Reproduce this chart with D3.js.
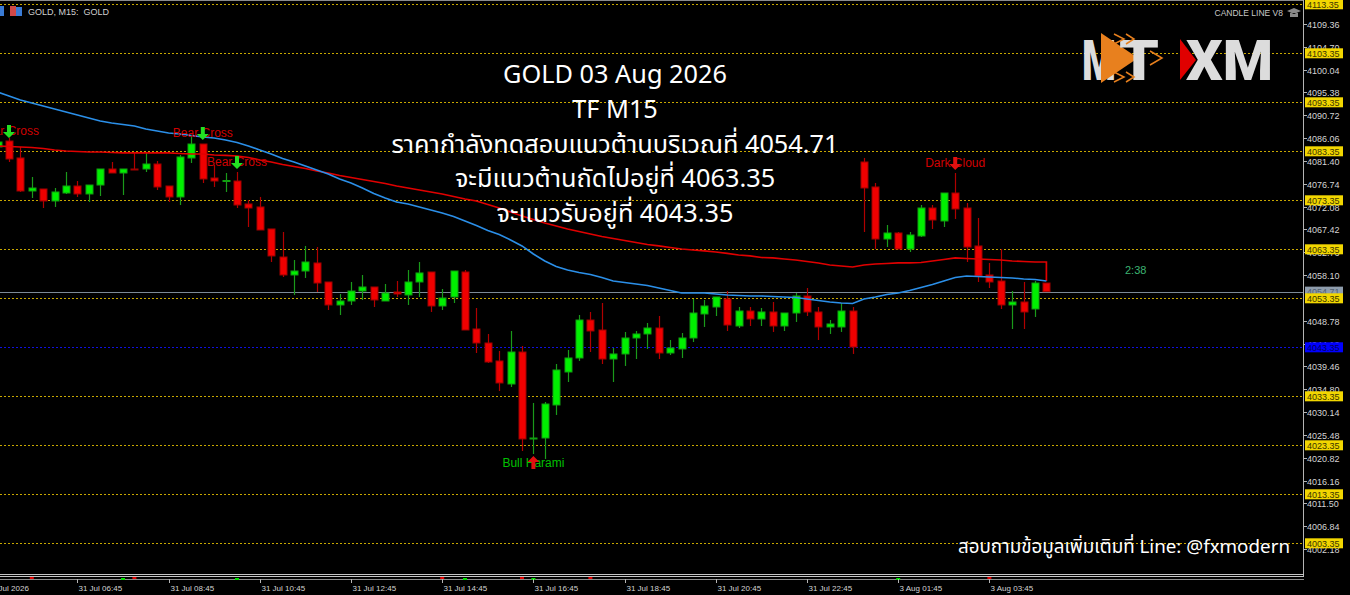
<!DOCTYPE html>
<html>
<head>
<meta charset="utf-8">
<script src="https://cdn.jsdelivr.net/npm/d3@7"></script>
<style>
  html, body { margin: 0; padding: 0; background: #000; overflow: hidden; }
</style>
</head>
<body>
<div id="chart"></div>
<script>
// bar times (M15), 31 Jul then 3 Aug after the weekend gap
const times = [
  "31.07 04:45",
  "31.07 05:00","31.07 05:15","31.07 05:30","31.07 05:45",
  "31.07 06:00","31.07 06:15","31.07 06:30","31.07 06:45",
  "31.07 07:00","31.07 07:15","31.07 07:30","31.07 07:45",
  "31.07 08:00","31.07 08:15","31.07 08:30","31.07 08:45",
  "31.07 09:00","31.07 09:15","31.07 09:30","31.07 09:45",
  "31.07 10:00","31.07 10:15","31.07 10:30","31.07 10:45",
  "31.07 11:00","31.07 11:15","31.07 11:30","31.07 11:45",
  "31.07 12:00","31.07 12:15","31.07 12:30","31.07 12:45",
  "31.07 13:00","31.07 13:15","31.07 13:30","31.07 13:45",
  "31.07 14:00","31.07 14:15","31.07 14:30","31.07 14:45",
  "31.07 15:00","31.07 15:15","31.07 15:30","31.07 15:45",
  "31.07 16:00","31.07 16:15","31.07 16:30","31.07 16:45",
  "31.07 17:00","31.07 17:15","31.07 17:30","31.07 17:45",
  "31.07 18:00","31.07 18:15","31.07 18:30","31.07 18:45",
  "31.07 19:00","31.07 19:15","31.07 19:30","31.07 19:45",
  "31.07 20:00","31.07 20:15","31.07 20:30","31.07 20:45",
  "31.07 21:00","31.07 21:15","31.07 21:30","31.07 21:45",
  "31.07 22:00","31.07 22:15","31.07 22:30","31.07 22:45",
  "31.07 23:00","31.07 23:15","31.07 23:30","31.07 23:45",
  "03.08 01:00","03.08 01:15","03.08 01:30","03.08 01:45",
  "03.08 02:00","03.08 02:15","03.08 02:30","03.08 02:45",
  "03.08 03:00","03.08 03:15","03.08 03:30","03.08 03:45",
  "03.08 04:00","03.08 04:15","03.08 04:30","03.08 04:45",
  "03.08 05:00"
];

const open = [null,
  4084.23,4085.45,4081.99,4075.25,4075.66,4073.21,4074.84,4076.27,4074.64,4076.47,
  4079.74,4078.92,4079.74,4079.74,4080.76,4076.27,4074.03,4081.99,4084.84,4077.90,
  4077.19,4077.29,4072.60,4071.99,4067.50,4061.78,4058.11,4058.92,4060.56,4056.68,
  4051.99,4052.80,4054.84,4055.66,4052.80,4054.64,4054.03,4056.68,4058.72,4051.78,
  4053.62,4058.72,4047.09,4044.23,4040.56,4035.86,4042.39,4024.64,4024.84,4031.58,
  4038.31,4041.17,4048.92,4046.88,4040.96,4041.99,4045.25,4046.07,4047.29,4042.19,
  4043.01,4045.25,4050.15,4051.58,4053.21,4047.70,4050.76,4049.13,4050.56,4047.70,
  4050.35,4053.82,4050.56,4047.50,4047.50,4050.76,4081.17,4076.07,4065.45,4066.68,
  4063.41,4066.07,4071.78,4069.13,4074.84,4071.78,4064.03,4058.11,4056.88,4051.99,
  4052.60,4051.17,4056.47];

const high = [null,
  4085.66,4086.07,4084.23,4078.11,4075.66,4075.86,4079.13,4077.29,4076.47,4079.74,
  4081.17,4079.74,4083.01,4083.01,4081.37,4076.27,4082.60,4086.27,4084.84,4080.56,
  4078.92,4079.13,4073.41,4074.03,4067.50,4066.88,4061.17,4064.03,4063.82,4056.68,
  4054.23,4056.68,4058.11,4055.66,4056.27,4056.88,4059.13,4060.76,4058.72,4055.25,
  4058.92,4059.13,4051.37,4046.07,4042.60,4046.68,4043.62,4031.99,4032.19,4039.94,
  4042.80,4049.94,4050.56,4052.39,4043.21,4046.47,4046.68,4048.31,4049.74,4044.84,
  4046.27,4053.21,4053.01,4053.62,4054.84,4051.58,4051.58,4051.37,4052.60,4050.35,
  4054.43,4055.45,4051.58,4048.92,4052.39,4051.58,4081.99,4076.88,4068.31,4066.88,
  4066.88,4072.39,4072.39,4074.84,4078.92,4072.80,4069.74,4060.56,4063.41,4054.84,
  4056.68,4056.88,4056.47];

const low = [null,
  4084.03,4081.17,4075.05,4073.82,4071.78,4071.99,4074.64,4074.03,4073.01,4074.23,
  4078.92,4074.43,4079.54,4079.13,4075.45,4073.01,4072.39,4080.96,4076.88,4076.07,
  4075.05,4071.78,4067.90,4067.29,4060.76,4057.70,4054.03,4057.50,4054.64,4050.96,
  4049.94,4051.99,4053.01,4051.58,4052.80,4053.62,4051.99,4053.62,4050.56,4050.96,
  4052.39,4046.88,4042.19,4040.15,4034.43,4035.25,4022.19,4021.58,4020.56,4029.54,
  4036.27,4040.56,4042.39,4039.94,4036.27,4039.54,4040.96,4043.01,4040.96,4041.78,
  4041.17,4044.43,4047.50,4049.74,4046.68,4047.29,4047.70,4047.70,4046.48,4046.68,
  4048.52,4049.74,4044.84,4046.07,4046.48,4041.99,4066.88,4063.41,4063.82,4063.41,
  4062.80,4065.86,4067.50,4067.90,4069.54,4060.76,4056.68,4055.45,4051.17,4047.09,
  4047.09,4049.54,4054.71];

const close = [null,
  4085.25,4081.78,4075.25,4075.86,4073.21,4075.05,4076.27,4074.64,4076.47,4079.74,
  4078.92,4079.74,4079.54,4080.76,4076.07,4074.03,4082.19,4084.84,4077.70,4077.29,
  4077.39,4072.39,4071.78,4067.29,4061.99,4058.11,4058.92,4060.76,4056.47,4051.99,
  4052.80,4054.84,4055.66,4053.01,4054.43,4054.23,4056.68,4058.52,4051.78,4053.41,
  4058.92,4046.88,4044.23,4040.35,4036.07,4042.39,4024.64,4024.84,4031.78,4038.72,
  4041.17,4048.92,4046.68,4040.96,4041.99,4045.25,4046.07,4047.29,4042.19,4043.21,
  4045.25,4050.35,4051.78,4053.62,4047.90,4050.76,4049.13,4050.56,4047.70,4050.35,
  4053.82,4050.56,4047.50,4048.11,4050.76,4043.41,4075.86,4065.45,4066.68,4063.41,
  4066.27,4071.78,4069.33,4074.84,4071.58,4063.82,4057.90,4056.68,4051.99,4052.60,
  4050.56,4056.47,4054.71];

// blue (fast) and red (slow) moving averages
const maFast = [null,
  4095.45,4094.64,4093.82,4093.21,4092.60,4091.99,4091.37,4090.76,4090.15,4089.54,
  4089.13,4088.82,4088.52,4087.90,4087.50,4087.09,4086.88,4086.58,4086.27,4086.07,
  4085.66,4085.15,4084.43,4083.62,4082.80,4081.88,4081.17,4080.35,4079.54,4078.72,
  4077.70,4076.88,4075.86,4074.74,4073.82,4073.01,4072.60,4071.99,4071.37,4070.76,
  4070.05,4069.13,4068.21,4067.19,4066.37,4065.25,4064.03,4062.39,4060.96,4059.84,
  4059.13,4058.62,4058.21,4057.60,4056.88,4056.58,4056.27,4055.96,4055.45,4054.94,
  4054.43,4054.43,4054.43,4054.23,4054.03,4053.92,4053.82,4053.82,4053.72,4053.62,
  4053.52,4053.21,4052.90,4052.60,4052.39,4052.29,4053.21,4053.62,4054.13,4054.43,
  4054.94,4055.56,4056.17,4056.88,4057.60,4057.90,4057.80,4057.70,4057.60,4057.50,
  4057.29,4057.19,4056.88];

const maSlow = [null,
  4084.43,4084.33,4084.23,4084.13,4083.92,4083.62,4083.41,4083.31,4083.21,4083.21,
  4083.11,4083.01,4083.01,4083.01,4083.01,4083.01,4082.90,4082.80,4082.80,4082.60,
  4082.50,4082.39,4082.09,4081.58,4081.17,4080.66,4080.25,4079.84,4079.33,4078.92,
  4078.41,4078.01,4077.60,4077.19,4076.78,4076.27,4075.86,4075.45,4075.05,4074.64,
  4074.13,4073.62,4073.21,4072.50,4071.78,4070.96,4070.15,4069.43,4068.72,4068.11,
  4067.50,4066.99,4066.47,4065.96,4065.56,4065.15,4064.74,4064.33,4064.03,4063.72,
  4063.41,4063.21,4063.01,4062.80,4062.50,4062.19,4061.99,4061.68,4061.58,4061.37,
  4061.17,4060.86,4060.56,4060.15,4059.94,4059.74,4060.15,4060.35,4060.45,4060.56,
  4060.56,4060.66,4060.96,4061.27,4061.58,4061.47,4061.37,4061.27,4061.17,4060.96,
  4060.86,4060.76,4060.76];
const maSlowTail = 4056.88;

const levels = [4113.35, 4103.35, 4093.35, 4083.35, 4073.35, 4063.35, 4053.35, 4043.35, 4033.35, 4023.35, 4013.35, 4003.35];
const supportLevel = 4043.35;
const bid = 4054.71;

const priceTicks = ["4109.36","4104.70","4100.04","4095.38","4090.72","4086.06","4081.40","4076.74",
  "4072.08","4067.42","4062.76","4058.10","4048.78","4044.12","4039.46","4034.80","4030.14",
  "4025.48","4020.82","4016.16","4011.50","4006.84","4002.18"];

const timeTicks = ["31.07 04:45","31.07 06:45","31.07 08:45","31.07 10:45","31.07 12:45","31.07 14:45",
  "31.07 16:45","31.07 18:45","31.07 20:45","31.07 22:45","03.08 01:45","03.08 03:45"];
const timeLabels = ["31 Jul 2026","31 Jul 06:45","31 Jul 08:45","31 Jul 10:45","31 Jul 12:45","31 Jul 14:45",
  "31 Jul 16:45","31 Jul 18:45","31 Jul 20:45","31 Jul 22:45","3 Aug 01:45","3 Aug 03:45"];

// pattern signals: bar, label, arrow tip price
const signalTimes = ["31.07 05:15","31.07 09:30","31.07 10:15","03.08 03:00","31.07 16:45"];
const signalNames = ["Bear Cross","Bear Cross","Bear Cross","Dark Cloud","Bull Harami"];
const signalPrices = [4086.07, 4085.66, 4079.74, 4079.54, 4021.17];
const signalDir = ["down","down","down","down","up"];

// small marks in the strip under the chart
const stripTimes = ["31.07 05:45","31.07 07:45","31.07 08:00","31.07 10:15","31.07 14:45","31.07 15:15",
  "31.07 16:30","31.07 16:45","31.07 18:00","03.08 01:45","03.08 03:45"];
const stripKind = ["dn","up","dn","up","dn","up","dn","up","dn","up","dn"];

const titleLines = ["GOLD 03 Aug 2026", "TF M15", "ราคากำลังทดสอบแนวต้านบริเวณที่ 4054.71",
  "จะมีแนวต้านถัดไปอยู่ที่ 4063.35", "จะแนวรับอยู่ที่ 4043.35"];

const W = 1350, H = 595;
const plotRight = 1303, plotTop = 1, plotBottom = 574;
const thaiFont = '"Noto Sans Thai", "Noto Sans", "DejaVu Sans", sans-serif';
const termFont = '"Liberation Sans", Arial, sans-serif';
const logoFont = "Roboto, 'DejaVu Sans', sans-serif";

const svg = d3.select("#chart").append("svg")
    .attr("width", W)
    .attr("height", H)
    .style("display", "block");

svg.append("rect").attr("width", W).attr("height", H).attr("fill", "#000");

const x = d3.scalePoint()
    .domain(times)
    .range([-13.8, 1046.4]);

const y = d3.scaleLinear()
    .domain([4003.35, 4113.35])
    .range([543.3, 4.3]);

svg.append("clipPath").attr("id", "plot-clip")
  .append("rect")
    .attr("x", 0).attr("y", plotTop)
    .attr("width", plotRight).attr("height", plotBottom - plotTop);

const plot = svg.append("g").attr("clip-path", "url(#plot-clip)");

// top border
svg.append("line")
    .attr("x1", 0).attr("x2", plotRight)
    .attr("y1", 0.5).attr("y2", 0.5)
    .attr("stroke", "#8c8c8c");

// horizontal level lines
levels.forEach(v => {
  const isSup = v === supportLevel;
  plot.append("line")
      .attr("x1", 0).attr("x2", plotRight)
      .attr("y1", Math.round(y(v)) + 0.5).attr("y2", Math.round(y(v)) + 0.5)
      .attr("stroke", isSup ? "#1010e0" : "#c8a800")
      .attr("stroke-width", 1)
      .attr("stroke-dasharray", "2,2");
});

plot.append("line")
    .attr("x1", 0).attr("x2", plotRight)
    .attr("y1", Math.round(y(bid)) + 0.5).attr("y2", Math.round(y(bid)) + 0.5)
    .attr("stroke", "#7d8a98");

// candles
const bars = times.map((t, i) => ({ t, o: open[i], h: high[i], l: low[i], c: close[i] }))
    .filter(d => d.o !== null);

const cg = plot.append("g");
bars.forEach(d => {
  const up = d.c >= d.o;
  const cx = Math.round(x(d.t)) + 0.5;
  cg.append("line")
      .attr("x1", cx).attr("x2", cx)
      .attr("y1", y(d.h)).attr("y2", y(d.l))
      .attr("stroke", up ? "#1a9a1a" : "#b00000")
      .attr("stroke-width", 1.2);
  const top = y(Math.max(d.o, d.c)), bot = y(Math.min(d.o, d.c));
  cg.append("rect")
      .attr("x", cx - 3.5)
      .attr("y", top)
      .attr("width", 7)
      .attr("height", Math.max(1, bot - top))
      .attr("fill", up ? "#00f000" : "#f00000")
      .attr("stroke", up ? "#10a010" : "#a00000")
      .attr("stroke-width", 1);
});

// moving averages
const line = d3.line()
    .defined(d => d.v !== null)
    .x(d => x(d.t))
    .y(d => y(d.v));

plot.append("path")
    .datum(times.map((t, i) => ({ t, v: maSlow[i] })).concat([{ t: times[times.length - 1], v: maSlowTail }]))
    .attr("d", line)
    .attr("fill", "none")
    .attr("stroke", "#e00000")
    .attr("stroke-width", 1.7);

plot.append("path")
    .datum(times.map((t, i) => ({ t, v: maFast[i] })))
    .attr("d", line)
    .attr("fill", "none")
    .attr("stroke", "#2b8fe8")
    .attr("stroke-width", 1.6);

// signals
signalTimes.forEach((t, i) => {
  const sx = x(t), sy = y(signalPrices[i]);
  const down = signalDir[i] === "down";
  const bull = signalNames[i].indexOf("Bull") === 0;
  const arrowCol = signalNames[i] === "Bear Cross" ? "#22e022" : "#e01010";
  const textY = down ? sy - 7 : sy + 7;
  plot.append("text")
      .attr("x", sx).attr("y", textY)
      .attr("text-anchor", "middle")
      .attr("dominant-baseline", "central")
      .attr("font-family", termFont)
      .attr("font-size", 12)
      .attr("fill", bull ? "#00c000" : "#d00000")
      .text(signalNames[i]);
  const s = down ? -1 : 1;
  const p = d3.path();
  p.moveTo(sx, sy);
  p.lineTo(sx + 6, sy + s * 6);
  p.lineTo(sx + 2, sy + s * 6);
  p.lineTo(sx + 2, sy + s * 13);
  p.lineTo(sx - 2, sy + s * 13);
  p.lineTo(sx - 2, sy + s * 6);
  p.lineTo(sx - 6, sy + s * 6);
  p.closePath();
  plot.append("path").attr("d", p.toString()).attr("fill", arrowCol);
});

// right price axis
const axisG = svg.append("g");
axisG.append("line")
    .attr("x1", plotRight + 0.5).attr("x2", plotRight + 0.5)
    .attr("y1", 0).attr("y2", 577)
    .attr("stroke", "#b4b4b4");

priceTicks.forEach(t => {
  const ty = Math.round(y(+t)) + 0.5;
  axisG.append("line")
      .attr("x1", plotRight).attr("x2", plotRight + 4)
      .attr("y1", ty).attr("y2", ty)
      .attr("stroke", "#b4b4b4");
  axisG.append("text")
      .attr("x", plotRight + 4).attr("y", ty)
      .attr("dominant-baseline", "central")
      .attr("font-family", termFont)
      .attr("font-size", 9)
      .attr("fill", "#d4d4d4")
      .text(t);
});

function priceBox(v, bg, fg) {
  const by = y(v);
  axisG.append("rect")
      .attr("x", plotRight + 2).attr("y", by - 5)
      .attr("width", 38).attr("height", 10)
      .attr("fill", bg);
  axisG.append("text")
      .attr("x", plotRight + 4).attr("y", by + 0.5)
      .attr("dominant-baseline", "central")
      .attr("font-family", termFont)
      .attr("font-size", 9)
      .attr("fill", fg)
      .text(v.toFixed(2));
}
priceBox(bid, "#8e9cac", "#4e5e6e");
levels.forEach(v => {
  if (v === supportLevel) priceBox(v, "#0000ff", "#00005a");
  else priceBox(v, "#f2d600", "#3a3400");
});

// bottom strip and time axis
[574.5, 576.5].forEach(ly => {
  svg.append("line")
      .attr("x1", 0).attr("x2", plotRight + 1)
      .attr("y1", ly).attr("y2", ly)
      .attr("stroke", "#c4c4c4");
});
svg.append("line")
    .attr("x1", 0).attr("x2", plotRight + 1)
    .attr("y1", 579.5).attr("y2", 579.5)
    .attr("stroke", "#8c8c8c");

stripTimes.forEach((t, i) => {
  svg.append("rect")
      .attr("x", x(t) - 2).attr("y", stripKind[i] === "up" ? 578 : 577)
      .attr("width", 4).attr("height", 2)
      .attr("fill", stripKind[i] === "up" ? "#00e000" : "#e00000");
});

timeTicks.forEach((t, i) => {
  const tx = Math.round(x(t)) + 0.5;
  svg.append("line")
      .attr("x1", tx).attr("x2", tx)
      .attr("y1", 579).attr("y2", 583)
      .attr("stroke", "#b4b4b4");
  svg.append("text")
      .attr("x", tx + 1).attr("y", 588)
      .attr("dominant-baseline", "central")
      .attr("font-family", termFont)
      .attr("font-size", 8)
      .attr("fill", "#d4d4d4")
      .text(timeLabels[i]);
});

// terminal header texts
svg.append("rect").attr("x", 0).attr("y", 6).attr("width", 4).attr("height", 10).attr("fill", "#3a7bd5");
svg.append("rect").attr("x", 10).attr("y", 6).attr("width", 6).attr("height", 10).attr("fill", "#d04848");
svg.append("rect").attr("x", 16).attr("y", 7).attr("width", 6).attr("height", 9).attr("fill", "#3a7bd5");
svg.append("text")
    .attr("x", 28).attr("y", 12)
    .attr("dominant-baseline", "central")
    .attr("font-family", termFont).attr("font-size", 9)
    .attr("fill", "#d0d0d0")
    .attr("xml:space", "preserve")
    .text("GOLD, M15:  GOLD");
svg.append("text")
    .attr("x", 1283).attr("y", 13)
    .attr("text-anchor", "end")
    .attr("dominant-baseline", "central")
    .attr("font-family", termFont).attr("font-size", 8.5)
    .attr("fill", "#c8c8c8")
    .text("CANDLE LINE V8");
svg.append("path")
    .attr("d", "M1287,11 L1294,8 L1301,11 L1294,14 Z M1290,13 L1290,17 L1298,17 L1298,13")
    .attr("fill", "#8a8a8a");

svg.append("text")
    .attr("x", 1125).attr("y", 270)
    .attr("dominant-baseline", "central")
    .attr("font-family", termFont).attr("font-size", 11)
    .attr("fill", "#3cb371")
    .text("2:38");

// logo
const logo = svg.append("g");
logo.append("text")
    .attr("x", 1082).attr("y", 80)
    .attr("font-family", logoFont)
    .attr("font-weight", 900).attr("font-size", 56)
    .attr("textLength", 34).attr("lengthAdjust", "spacingAndGlyphs")
    .attr("fill", "#dcdcdc").text("M");
logo.append("polygon")
    .attr("points", "1101,33 1138,58 1101,83")
    .attr("fill", "#e8801e");
logo.append("text")
    .attr("x", 1119).attr("y", 80)
    .attr("font-family", logoFont)
    .attr("font-weight", 900).attr("font-size", 56)
    .attr("textLength", 40).attr("lengthAdjust", "spacingAndGlyphs")
    .attr("fill", "#dcdcdc").text("T");
[["1114,34 1124,39 1114,44"], ["1126,34 1134,39 1126,44"], ["1114,72 1124,77 1114,82"],
 ["1126,72 1134,77 1126,82"], ["1150,51 1162,58 1150,65"]].forEach(pts => {
  logo.append("polyline")
      .attr("points", pts[0])
      .attr("fill", "none")
      .attr("stroke", "#e8801e")
      .attr("stroke-width", 1.5);
});
logo.append("text")
    .attr("x", 1186).attr("y", 80)
    .attr("font-family", logoFont)
    .attr("font-weight", 900).attr("font-size", 56)
    .attr("textLength", 87).attr("lengthAdjust", "spacingAndGlyphs")
    .attr("fill", "#dcdcdc").text("XM");
logo.append("polygon")
    .attr("points", "1180,39 1196,60 1180,80")
    .attr("fill", "#e00000");

// headline
titleLines.forEach((t, i) => {
  svg.append("text")
      .attr("x", 615).attr("y", 75 + i * 34.8)
      .attr("text-anchor", "middle")
      .attr("dominant-baseline", "central")
      .attr("font-family", thaiFont)
      .attr("font-size", 25.3)
      .attr("fill", "#ffffff")
      .text(t);
});

svg.append("text")
    .attr("x", 1290).attr("y", 547)
    .attr("text-anchor", "end")
    .attr("dominant-baseline", "central")
    .attr("font-family", thaiFont)
    .attr("font-size", 18.8)
    .attr("fill", "#ffffff")
    .text("สอบถามข้อมูลเพิ่มเติมที่ Line: @fxmodern");
</script>
</body>
</html>
